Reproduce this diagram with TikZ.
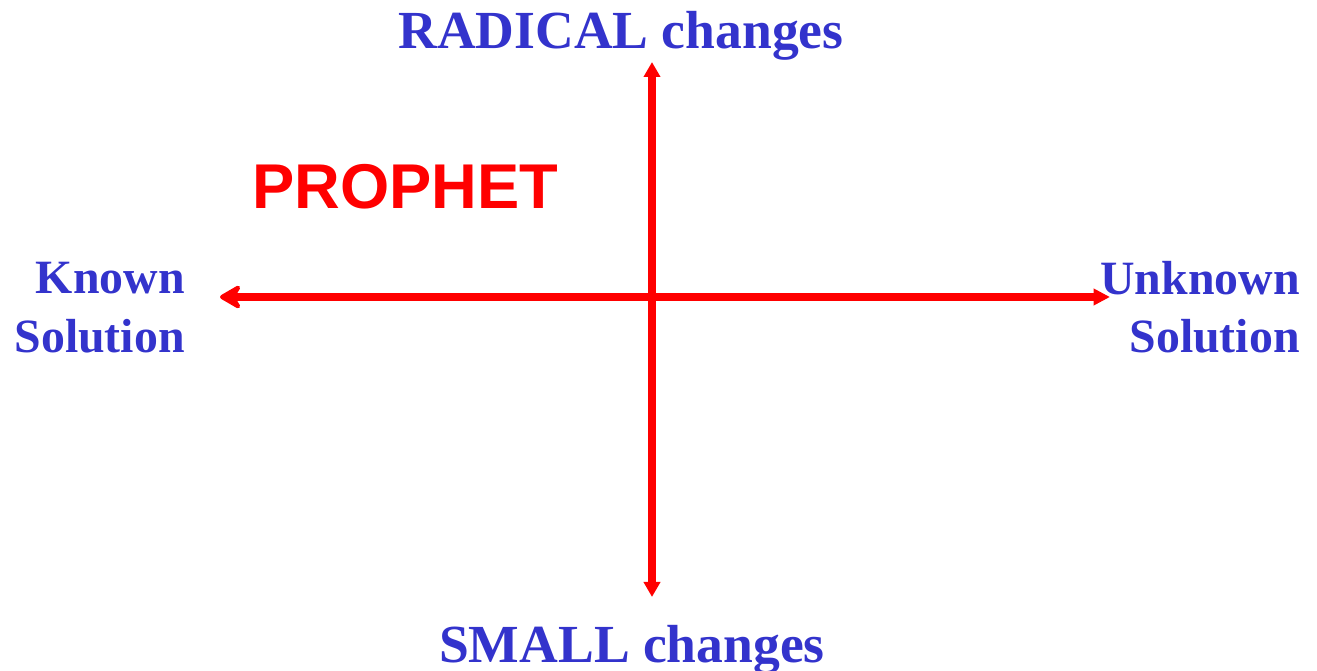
\documentclass[tikz,border=0pt]{standalone}
\usepackage{fontspec}
\setmainfont{Liberation Serif}
\newfontfamily\headfont{Liberation Sans}
\usetikzlibrary{arrows.meta}
\definecolor{labelblue}{RGB}{51,51,204}
\definecolor{axisred}{RGB}{255,0,0}

\begin{document}
\begin{tikzpicture}
    % Define the styles for the labels and the axes
    \tikzstyle{axislabel} = [text=labelblue, font=\bfseries\fontsize{30.5}{36}\selectfont, inner sep=0pt]
    \tikzstyle{sidelabel} = [axislabel, font=\bfseries\fontsize{27.2}{33.2}\selectfont, anchor=east, align=right]
    \tikzstyle{axis} = [draw=axisred, line width=0.16cm]
    \useasboundingbox (0,0) rectangle (26.34,13.42);

    % Ends of the two axes
    \coordinate (known end) at (4.4,7.48);
    \coordinate (unknown end) at (22.2,7.48);
    \coordinate (radical end) at (13.04,12.18);
    \coordinate (small end) at (13.04,1.48);

    % Labels at the ends of the axes
    \node[axislabel, anchor=base] (radical) at (12.42,12.45) {RADICAL changes};
    \node[axislabel, anchor=base] (small) at (12.64,0.16) {SMALL changes};
    \node[sidelabel] (known) at (3.7,7.27) {Known\\Solution};
    \node[sidelabel] (unknown) at (26.0,7.27) {Unknown\\Solution};

    % Name in the upper left quarter
    \node[text=axisred, font=\headfont\bfseries\fontsize{36}{40}\selectfont, anchor=base west, inner sep=0pt] (prophet) at (5.04,9.24) {PROPHET};

    % The two axes
    \draw[axis, {Stealth[round, length=0.52cm, width=0.6cm, inset=0.18cm]}-{Triangle[length=0.33cm, width=0.32cm]}] (known end) -- (unknown end);
    \draw[axis, {Triangle[length=0.3cm, width=0.32cm]}-{Triangle[length=0.3cm, width=0.32cm]}] (radical end) -- (small end);
\end{tikzpicture}
\end{document}
